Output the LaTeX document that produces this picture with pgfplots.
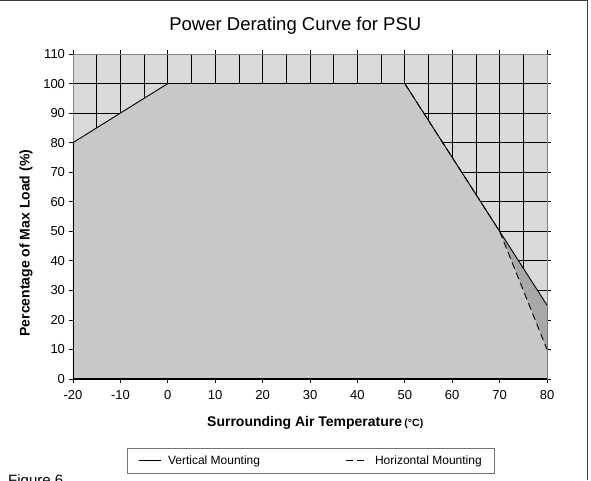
\documentclass[border=0pt]{standalone}
\usepackage{pgfplots}
\pgfplotsset{compat=1.18}
\usepackage{fontspec}
\setmainfont{Liberation Sans}
\definecolor{bgcell}{HTML}{D9D9D9}
\definecolor{areafill}{HTML}{C8C8C8}
\definecolor{wedge}{HTML}{A8A8A8}
\begin{document}
\begin{tikzpicture}[x=1pt,y=1pt]
\useasboundingbox (0,0) rectangle (591,480);
\begin{scope}
\clip (0,0) rectangle (591,480);
\node[anchor=base west, inner sep=0pt, font=\fontsize{15}{15}\selectfont] at (8,-5) {Figure 6};
\end{scope}
\draw[line width=1.2pt, black!75] (0,479.4) -- (587.6,479.4) -- (587.6,0);
\begin{axis}[
  at={(73pt,101pt)}, anchor=south west, scale only axis,
  width=474pt, height=325pt,
  xmin=-20, xmax=80, ymin=0, ymax=110,
  xtick={-20,-10,...,80},
  xticklabels={-20,-10,0,10,20,30,40,50,60,70,80},
  ytick={0,10,...,110},
  yticklabels={0,10,20,30,40,50,60,70,80,90,100,110},
  minor xtick={-15,-5,...,75},
  minor tick length=0pt,
  xmajorgrids, xminorgrids, ymajorgrids,
  grid style={black, line width=0.8pt},
  minor grid style={black, line width=0.8pt},
  axis background/.style={fill=bgcell},
  axis line style={black!50, line width=0.8pt},
  every tick/.style={black, line width=0.8pt},
  major tick length=7pt,
  tick align=center,
  tick label style={font=\fontsize{13}{15}\selectfont},
  xticklabel style={anchor=base, yshift=-17pt},
  yticklabel style={xshift=-1pt},
  title={Power Derating Curve for PSU},
  title style={at={(0.469,1.053)}, anchor=base, inner sep=0pt, font=\fontsize{18.5}{20}\selectfont},
  xlabel={\textbf{Surrounding Air Temperature}\,{\fontsize{10.5}{12}\selectfont\textbf{(°C)}}},
  xlabel style={at={(0.511,-0.145)}, anchor=base, inner sep=0pt, font=\fontsize{14}{16}\selectfont},
  ylabel={Percentage of Max Load (\%)},
  ylabel style={at={(-0.099,0.418)}, anchor=center, inner sep=0pt, font=\bfseries\fontsize{14}{16}\selectfont},
  legend columns=2,
  legend style={at={(0.502,-0.252)}, anchor=center, draw=black!55, line width=0.8pt,
    font=\fontsize{12}{14}\selectfont, inner xsep=11pt, inner ysep=5pt,
    /tikz/every even column/.append style={column sep=83pt}},
  legend image code/.code={\draw[#1, line width=0.9pt] (0pt,0pt) -- (22pt,0pt); \path (27pt,0pt);},
]
% wedge region under vertical mounting curve
\addplot[fill=wedge, draw=none, forget plot] coordinates {(-20,0) (-20,80) (0,100) (50,100) (80,25) (80,0)} -- cycle;
% region under horizontal mounting curve
\addplot[fill=areafill, draw=none, forget plot] coordinates {(-20,0) (-20,80) (0,100) (50,100) (70,50) (80,10) (80,0)} -- cycle;
% area borders
\addplot[black, line width=0.9pt, forget plot] coordinates {(80,25) (80,0) (-20,0) (-20,80)};
\addplot[black, line width=1.6pt, forget plot] coordinates {(-20,0) (80,0)};
% curves
\addplot[black, line width=0.9pt] coordinates {(-20,80) (0,100) (50,100) (80,25)};
\addlegendentry{Vertical Mounting}
\addplot[black, line width=0.9pt, dash pattern=on 7pt off 4pt] coordinates {(50,100) (70,50) (80,10)};
\addlegendentry{Horizontal Mounting}
\end{axis}
\end{tikzpicture}
\end{document}
